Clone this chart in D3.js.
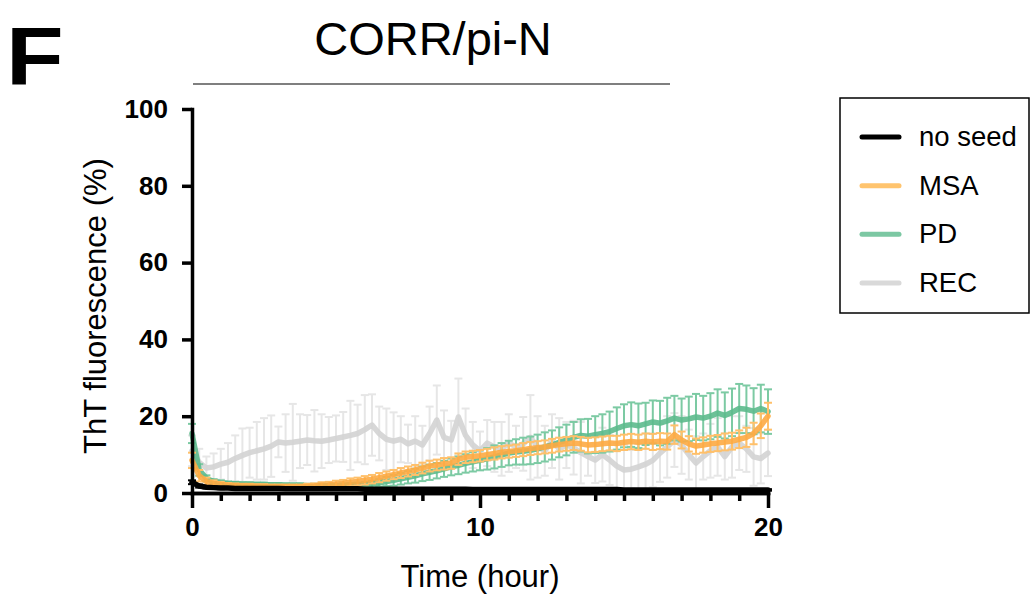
<!DOCTYPE html>
<html>
<head>
<meta charset="utf-8">
<script src="https://cdn.jsdelivr.net/npm/d3@7"></script>
<style>
  html, body { margin: 0; padding: 0; background: #fff; }
  svg { display: block; font-family: "Liberation Sans", Arial, Helvetica, sans-serif; }
</style>
</head>
<body>
<svg id="chart" width="1031" height="598"></svg>
<script>
// Sampling times (hours), one reading every 15 minutes
const times = [
  0,0.25,0.5,0.75,1,1.25,1.5,1.75,2,2.25,
  2.5,2.75,3,3.25,3.5,3.75,4,4.25,4.5,4.75,
  5,5.25,5.5,5.75,6,6.25,6.5,6.75,7,7.25,
  7.5,7.75,8,8.25,8.5,8.75,9,9.25,9.5,9.75,
  10,10.25,10.5,10.75,11,11.25,11.5,11.75,12,12.25,
  12.5,12.75,13,13.25,13.5,13.75,14,14.25,14.5,14.75,
  15,15.25,15.5,15.75,16,16.25,16.5,16.75,17,17.25,
  17.5,17.75,18,18.25,18.5,18.75,19,19.25,19.5,19.75,
  20
];

// ThT fluorescence (%) means
const noSeed = [
  2.8,1.8,1.5,1.4,1.3,1.3,1.2,1.2,1.2,1.2,
  1.2,1.2,1.2,1.1,1.1,1.1,1.1,1.1,1.1,1.1,
  1.1,1.1,1.1,1.1,1.0,1.0,1.0,1.0,1.0,1.0,
  1.0,1.0,1.0,1.0,1.0,1.0,1.0,1.0,1.0,0.9,
  0.9,0.9,0.9,0.9,0.9,0.9,0.9,0.9,0.9,0.9,
  0.9,0.9,0.9,0.9,0.9,0.9,0.9,0.9,0.9,0.9,
  0.8,0.8,0.8,0.8,0.8,0.8,0.8,0.8,0.8,0.8,
  0.8,0.8,0.8,0.8,0.8,0.8,0.8,0.8,0.8,0.8,
  0.8
];
const msa = [
  8.5,4.5,3.0,2.5,2.2,2.0,1.9,1.8,1.8,1.7,
  1.7,1.6,1.6,1.6,1.6,1.6,1.7,1.8,2.0,2.1,
  2.3,2.5,2.8,3.0,3.3,3.6,4.0,4.4,4.8,5.2,
  5.6,6.0,6.5,7.0,7.3,7.6,7.8,8.8,9.3,9.5,
  9.7,10.0,10.3,10.6,10.8,11.0,11.3,11.6,11.8,12.0,
  12.3,12.6,12.8,13.0,12.8,12.5,12.6,12.8,13.0,12.9,
  13.2,13.4,13.2,13.5,13.3,13.5,13.4,15.2,13.8,12.8,
  12.2,12.5,12.8,13.0,13.3,13.5,14.0,14.5,15.5,17.5,
  20.0
];
const pd = [
  15.5,6.0,3.8,3.0,2.7,2.5,2.4,2.3,2.3,2.2,
  2.2,2.1,2.1,2.0,2.0,2.0,1.9,1.9,1.9,1.9,
  1.9,1.9,2.0,2.0,2.1,2.3,2.6,3.0,3.3,3.7,
  4.1,4.5,5.0,5.4,5.8,6.3,6.8,7.2,7.7,8.1,
  8.5,8.9,9.4,9.9,10.4,10.7,10.9,11.1,11.5,12.0,
  12.5,13.2,13.8,14.5,15.0,14.8,15.2,15.5,16.0,16.8,
  17.5,17.8,17.5,18.0,18.5,18.2,18.8,19.5,19.0,19.3,
  19.8,19.5,20.0,20.8,20.2,21.0,22.0,21.8,21.3,22.0,
  21.2
];
const rec = [
  11.0,8.0,6.5,6.8,7.5,8.0,9.0,9.8,10.5,11.0,
  11.5,12.2,13.3,13.0,13.2,13.5,13.8,13.6,13.5,13.8,
  14.2,14.6,15.0,15.5,16.5,17.7,15.5,14.0,13.5,14.0,
  12.8,13.5,12.5,15.5,19.0,14.5,13.8,19.8,15.0,12.5,
  11.0,13.0,12.0,11.5,13.0,12.0,12.8,14.5,12.0,11.0,
  13.5,11.5,12.5,11.8,10.5,9.5,8.6,10.0,8.6,7.0,
  6.0,6.2,6.8,7.5,8.5,10.4,12.0,13.8,12.5,10.0,
  7.8,9.5,11.0,12.0,9.5,12.0,13.0,11.5,9.4,9.0,
  10.4
];

// Error bar half-lengths (SD)
const noSeedErr = [
  0.5,0.4,0.3,0.3,0.3,0.2,0.2,0.2,0.2,0.2,
  0.2,0.2,0.2,0.2,0.2,0.2,0.2,0.2,0.2,0.2,
  0.2,0.2,0.2,0.2,0.2,0.2,0.2,0.2,0.2,0.2,
  0.2,0.2,0.2,0.2,0.2,0.2,0.2,0.2,0.2,0.2,
  0.2,0.2,0.2,0.2,0.2,0.2,0.2,0.2,0.2,0.2,
  0.2,0.2,0.2,0.2,0.2,0.2,0.2,0.2,0.2,0.2,
  0.2,0.2,0.2,0.2,0.2,0.2,0.2,0.2,0.2,0.2,
  0.2,0.2,0.2,0.2,0.2,0.2,0.2,0.2,0.2,0.2,
  0.2
];
const msaErr = [
  2.0,1.5,1.0,0.8,0.7,0.6,0.6,0.6,0.6,0.6,
  0.6,0.6,0.6,0.6,0.6,0.6,0.7,0.7,0.8,0.8,
  0.9,0.9,1.0,1.0,1.1,1.1,1.2,1.2,1.2,1.3,
  1.3,1.3,1.4,1.4,1.4,1.5,1.5,1.5,1.5,1.5,
  1.5,1.5,1.6,1.6,1.6,1.6,1.7,1.7,1.7,1.7,
  1.8,1.8,1.8,1.8,1.8,1.9,1.9,1.9,1.9,2.0,
  2.0,2.0,2.0,2.0,2.1,2.1,2.1,2.4,2.2,2.0,
  2.0,2.0,2.1,2.1,2.2,2.2,2.3,2.5,2.8,3.2,
  3.5
];
const pdErr = [
  2.5,1.5,0.8,0.6,0.6,0.5,0.5,0.5,0.5,0.5,
  0.5,0.5,0.5,0.5,0.5,0.5,0.5,0.5,0.5,0.5,
  0.5,0.6,0.6,0.7,0.8,0.9,1.0,1.2,1.4,1.5,
  1.6,1.8,1.9,2.0,2.0,2.1,2.2,2.3,2.4,2.5,
  2.6,2.8,3.0,3.1,3.2,3.3,3.5,3.6,3.7,3.8,
  3.8,3.9,4.0,4.0,4.2,4.5,4.8,5.0,5.2,5.5,
  5.6,5.8,5.8,5.5,5.6,5.8,6.0,5.8,5.6,5.8,
  6.0,5.8,6.0,6.2,6.0,6.2,6.4,6.2,6.0,6.2,
  5.8
];
const recErr = [
  4.0,3.5,3.0,3.5,4.0,5.0,6.0,7.0,6.5,7.5,
  8.0,8.0,4.0,7.5,10.0,7.0,6.5,8.0,7.0,6.0,
  6.0,6.5,9.0,7.5,9.0,8.0,7.0,8.0,7.5,6.0,
  5.0,6.5,5.0,7.0,9.0,7.0,5.0,10.0,7.0,6.0,
  5.0,6.0,6.5,7.0,7.5,5.5,7.0,11.0,8.0,6.5,
  7.0,8.0,6.0,7.0,8.0,5.0,6.0,7.0,6.5,6.0,
  6.5,5.0,6.0,8.0,7.0,7.5,8.0,7.0,7.5,6.5,
  7.0,6.0,7.0,7.5,6.0,8.0,7.0,6.0,7.5,6.5,
  6.0
];

const seriesNames = ["no seed", "MSA", "PD", "REC"];
const yTicks = [0, 20, 40, 60, 80, 100];
const xMajorTicks = [0, 10, 20];
const xMinorTicks = [1,2,3,4,5,6,7,8,9,11,12,13,14,15,16,17,18,19];

// Series, back to front
const series = [
  { name: "REC",     mean: rec,    err: recErr,    line: "#d3d3d3", bar: "#e6e6e6", legend: "#d9d9d9" },
  { name: "PD",      mean: pd,     err: pdErr,     line: "#5cba8c", bar: "#7ccaa3", legend: "#7cc8a3" },
  { name: "MSA",     mean: msa,    err: msaErr,    line: "#fdaa43", bar: "#ffc06a", legend: "#ffc46e" },
  { name: "no seed", mean: noSeed, err: noSeedErr, line: "#000000", bar: "#000000", legend: "#000000" }
];

const svg = d3.select("#chart");
const x = d3.scaleLinear().domain([0, 20]).range([192, 768]);
const y = d3.scaleLinear().domain([0, 100]).range([493, 109]);

// Panel letter and title
svg.append("text").attr("transform", "translate(6,85) scale(1.15,1)")
  .attr("font-size", 82).attr("font-weight", "bold").attr("fill", "#000").text("F");
svg.append("text").attr("x", 433).attr("y", 55).attr("text-anchor", "middle")
  .attr("font-size", 47).attr("fill", "#000").text("CORR/pi-N");
svg.append("line").attr("x1", 193).attr("x2", 670).attr("y1", 84).attr("y2", 84)
  .attr("stroke", "#555").attr("stroke-width", 1.5);

// Clip for data
svg.append("clipPath").attr("id", "plotClip").append("rect")
  .attr("x", 150).attr("y", 100).attr("width", 640).attr("height", 393);

const dataG = svg.append("g").attr("clip-path", "url(#plotClip)");
const capHalf = 4;

series.forEach(s => {
  const g = dataG.append("g");
  const pts = times.map((t, i) => ({ t, v: s.mean[i], e: s.err[i] }));
  const bars = g.append("g").attr("stroke", s.bar).attr("stroke-width", 2).attr("fill", "none");
  pts.forEach(p => {
    const xp = x(p.t), y1 = y(p.v + p.e), y0 = y(Math.max(p.v - p.e, -5));
    bars.append("line").attr("x1", xp).attr("x2", xp).attr("y1", y1).attr("y2", y0);
    bars.append("line").attr("x1", xp - capHalf).attr("x2", xp + capHalf).attr("y1", y1).attr("y2", y1);
    bars.append("line").attr("x1", xp - capHalf).attr("x2", xp + capHalf).attr("y1", y0).attr("y2", y0);
  });
  const line = d3.line().x(p => x(p.t)).y(p => y(p.v));
  g.append("path").datum(pts).attr("d", line)
    .attr("fill", "none").attr("stroke", s.line)
    .attr("stroke-width", 5.5).attr("stroke-linejoin", "round").attr("stroke-linecap", "round")
    .attr("opacity", s.name === "no seed" ? 1 : 0.9);
});

// Axes
const yAxis = svg.append("g").attr("transform", "translate(192,0)")
  .call(d3.axisLeft(y).tickValues(yTicks).tickSize(10).tickSizeOuter(0).tickPadding(14));
const xMinor = svg.append("g").attr("transform", "translate(0,493)")
  .call(d3.axisBottom(x).tickValues(xMinorTicks).tickSize(8).tickSizeOuter(0).tickFormat(""));
const xAxis = svg.append("g").attr("transform", "translate(0,493)")
  .call(d3.axisBottom(x).tickValues(xMajorTicks).tickSize(15).tickSizeOuter(0).tickPadding(10));

[yAxis, xMinor, xAxis].forEach(a => {
  a.select(".domain").attr("stroke", "#000").attr("stroke-width", 3.5).attr("stroke-linecap", "square");
  a.selectAll(".tick line").attr("stroke", "#000").attr("stroke-width", 3.5);
  a.selectAll(".tick text").attr("font-size", 26).attr("font-weight", "bold")
    .attr("fill", "#000").attr("font-family", "Liberation Sans, Arial, sans-serif");
});

// Axis titles
svg.append("text").attr("transform", "translate(106,306) rotate(-90)")
  .attr("text-anchor", "middle").attr("font-size", 31).attr("fill", "#000")
  .text("ThT fluorescence (%)");
svg.append("text").attr("x", 480).attr("y", 587).attr("text-anchor", "middle")
  .attr("font-size", 31).attr("fill", "#000").text("Time (hour)");

// Legend
const legend = svg.append("g");
legend.append("rect").attr("x", 840).attr("y", 98).attr("width", 189).attr("height", 215)
  .attr("fill", "#fff").attr("stroke", "#000").attr("stroke-width", 1.5);
const legendOrder = [series[3], series[2], series[1], series[0]];
const legendY = d3.scalePoint().domain(seriesNames).range([137, 283]);
legendOrder.forEach(s => {
  const ly = legendY(s.name);
  legend.append("line").attr("x1", 862).attr("x2", 899).attr("y1", ly).attr("y2", ly)
    .attr("stroke", s.legend).attr("stroke-width", 5).attr("stroke-linecap", "round");
  legend.append("text").attr("x", 919).attr("y", ly + 9).attr("font-size", 27.5)
    .attr("fill", "#000").text(s.name);
});
</script>
</body>
</html>
